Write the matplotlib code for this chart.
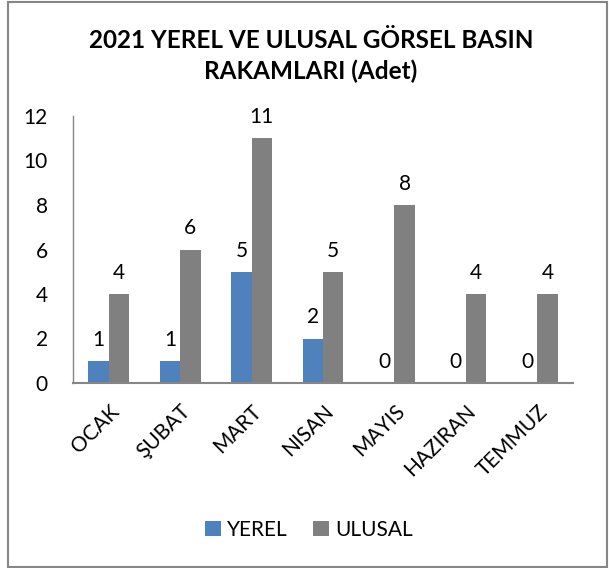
import matplotlib
matplotlib.use("Agg")
import matplotlib.pyplot as plt
import numpy as np
from matplotlib.patches import Rectangle

categories = ["OCAK", "ŞUBAT", "MART", "NISAN", "MAYIS", "HAZIRAN", "TEMMUZ"]
yerel = [1, 1, 5, 2, 0, 0, 0]
ulusal = [4, 6, 11, 5, 8, 4, 4]
yticks = [0, 2, 4, 6, 8, 10, 12]

plt.rcParams['font.family'] = ['Lato', 'DejaVu Sans']

W, H = 609, 568
fig = plt.figure(figsize=(W / 100, H / 100), dpi=100)
ax = fig.add_axes([73 / W, 1 - 383 / H, (573 - 73) / W, (383 - 116) / H])

x = np.arange(len(categories))
w = 0.285
b1 = ax.bar(x - w / 2, yerel, w, color="#4F81BD", label="YEREL")
b2 = ax.bar(x + w / 2, ulusal, w, color="#808080", label="ULUSAL")

for bars, vals in ((b1, yerel), (b2, ulusal)):
    for r, v in zip(bars, vals):
        ax.annotate(str(v), (r.get_x() + r.get_width() / 2, v), xytext=(0, 8),
                    textcoords="offset points", ha="center", va="bottom",
                    fontsize=15, color="#000000")

ax.set_xlim(-0.5, len(categories) - 0.5)
ax.set_ylim(0, 12)
ax.set_yticks(yticks)
ax.set_yticklabels([str(t) for t in yticks], fontsize=15)
ax.set_xticks(x)
ax.set_xticklabels(categories, rotation=45, ha="right", va="top",
                   rotation_mode="anchor", fontsize=15)
ax.tick_params(axis="y", length=0, pad=18)
ax.tick_params(axis="x", length=0, pad=13)
for s in ("top", "right"):
    ax.spines[s].set_visible(False)
ax.spines["left"].set_color("#868686")
ax.spines["bottom"].set_color("#868686")
ax.spines["left"].set_linewidth(1)
ax.spines["bottom"].set_linewidth(1.5)

fig.text(311 / W, 1 - 56 / H, "2021 YEREL VE ULUSAL GÖRSEL BASIN\nRAKAMLARI (Adet)",
         ha="center", va="center", fontsize=17.5, fontweight="bold", linespacing=1.35)

fig.legend(handles=[b1, b2], labels=["YEREL", "ULUSAL"], loc="center",
           bbox_to_anchor=(309 / W, 1 - 530 / H), ncol=2, frameon=False,
           fontsize=15, handlelength=0.75, handleheight=0.75, columnspacing=1.2,
           handletextpad=0.3)

fig.patches.append(Rectangle((8 / W, 1 / H), (607 - 8) / W, (566 - 1) / H,
                             transform=fig.transFigure, fill=False,
                             edgecolor="#868686", linewidth=1.5))

fig.savefig("out.png", dpi=100)
